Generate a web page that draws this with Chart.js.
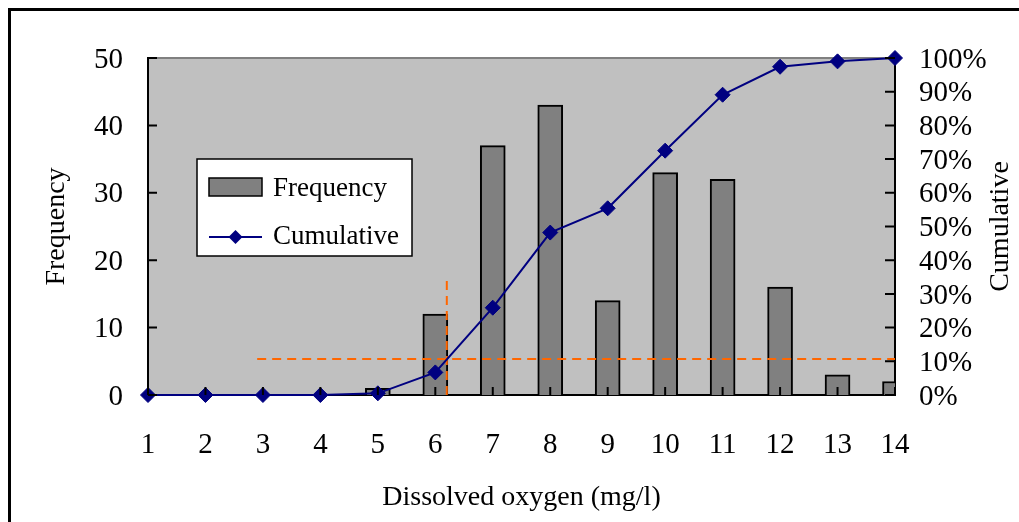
<!DOCTYPE html>
<html>
<head>
<meta charset="utf-8">
<script src="https://cdn.jsdelivr.net/npm/chart.js@4.4.0/dist/chart.umd.min.js"></script>
<style>
html, body { margin: 0; padding: 0; background: #fff; overflow: hidden; }
#frame { position: absolute; left: 8px; top: 8px; width: 1100px; height: 600px; border: 3px solid #000; }
#wrap { position: absolute; left: 0; top: 0; width: 1019px; height: 522px; }
</style>
</head>
<body>
<div id="frame"></div>
<div id="wrap"><canvas id="chart"></canvas></div>
<script>
// dissolved oxygen classes (mg/l)
const oxygen = [1, 2, 3, 4, 5, 6, 7, 8, 9, 10, 11, 12, 13, 14];
const frequency = [0, 0, 0, 0, 1, 12, 37, 43, 14, 33, 32, 16, 3, 2];
const cumulative = [0, 0, 0, 0, 0.5, 6.7, 25.9, 48.2, 55.4, 72.5, 89.1, 97.4, 99, 100];

// orange reference lines (x in mg/l, y in %)
const levelLineX = [2.9, 14];
const levelLineY = [10.7, 10.7];
const cutLineX = [6.2, 6.2];
const cutLineY = [0, 35];

const serif = "'Liberation Serif', 'Times New Roman', serif";
const font = { family: serif, size: 28 };
const tickFont = { family: serif, size: 29 };

const pts = (xs, ys) => xs.map((x, i) => ({ x: x, y: ys[i] }));

const framePlugin = {
    id: 'framePlugin',
    beforeDraw(chart) {
        const { ctx, chartArea: a } = chart;
        ctx.save();
        ctx.fillStyle = '#c0c0c0';
        ctx.fillRect(a.left, a.top, a.right - a.left, a.bottom - a.top);
        ctx.strokeStyle = '#808080';
        ctx.lineWidth = 2;
        ctx.beginPath();
        ctx.moveTo(a.left, a.top);
        ctx.lineTo(a.right, a.top);
        ctx.stroke();
        ctx.restore();
    },
    afterDraw(chart) {
        const { ctx, chartArea: a, scales } = chart;
        ctx.save();

        // inward tick marks
        ctx.strokeStyle = '#000';
        ctx.lineWidth = 2;
        ctx.beginPath();
        scales.y.ticks.forEach(t => {
            const y = scales.y.getPixelForValue(t.value);
            ctx.moveTo(a.left, y); ctx.lineTo(a.left + 9, y);
        });
        scales.y1.ticks.forEach(t => {
            const y = scales.y1.getPixelForValue(t.value);
            ctx.moveTo(a.right - 10, y); ctx.lineTo(a.right, y);
        });
        scales.x.ticks.forEach(t => {
            const x = scales.x.getPixelForValue(t.value);
            ctx.moveTo(x, a.bottom); ctx.lineTo(x, a.bottom - 8);
        });
        ctx.stroke();

        // right axis title, reading bottom to top
        ctx.fillStyle = '#000';
        ctx.font = '28px ' + serif;
        ctx.textAlign = 'center';
        ctx.textBaseline = 'middle';
        ctx.translate(1001, (a.top + a.bottom) / 2);
        ctx.rotate(-Math.PI / 2);
        ctx.fillText('Cumulative', 0, 0);
        ctx.setTransform(1, 0, 0, 1, 0, 0);

        // legend box
        const lx = a.left + 49, ly = a.top + 101;
        ctx.fillStyle = '#fff';
        ctx.fillRect(lx, ly, 215, 97);
        ctx.strokeStyle = '#000';
        ctx.lineWidth = 1.5;
        ctx.strokeRect(lx, ly, 215, 97);

        ctx.fillStyle = '#808080';
        ctx.fillRect(lx + 12, ly + 19, 53, 18);
        ctx.strokeRect(lx + 12, ly + 19, 53, 18);

        ctx.strokeStyle = '#000080';
        ctx.lineWidth = 2;
        ctx.beginPath();
        ctx.moveTo(lx + 12, ly + 78);
        ctx.lineTo(lx + 65, ly + 78);
        ctx.stroke();
        ctx.fillStyle = '#000080';
        ctx.beginPath();
        const dx = lx + 38.5, dy = ly + 78;
        ctx.moveTo(dx, dy - 7); ctx.lineTo(dx + 7, dy); ctx.lineTo(dx, dy + 7); ctx.lineTo(dx - 7, dy);
        ctx.closePath();
        ctx.fill();

        ctx.fillStyle = '#000';
        ctx.font = '27px ' + serif;
        ctx.textAlign = 'left';
        ctx.textBaseline = 'alphabetic';
        ctx.fillText('Frequency', lx + 76, ly + 37);
        ctx.fillText('Cumulative', lx + 76, ly + 85);
        ctx.restore();
    }
};

new Chart(document.getElementById('chart'), {
    type: 'bar',
    data: {
        datasets: [
            {
                type: 'line',
                label: 'Cumulative',
                data: pts(oxygen, cumulative),
                yAxisID: 'y1',
                borderColor: '#000080',
                backgroundColor: '#000080',
                borderWidth: 2,
                tension: 0,
                pointStyle: 'rectRot',
                pointRadius: 7.5,
                pointBorderWidth: 1,
                clip: false,
                order: 0
            },
            {
                type: 'line',
                data: pts(levelLineX, levelLineY),
                yAxisID: 'y1',
                borderColor: '#ff6600',
                borderWidth: 2,
                borderDash: [9, 6],
                pointRadius: 0,
                order: 1
            },
            {
                type: 'line',
                data: pts(cutLineX, cutLineY),
                yAxisID: 'y1',
                borderColor: '#ff6600',
                borderWidth: 2,
                borderDash: [9, 6],
                pointRadius: 0,
                order: 1
            },
            {
                label: 'Frequency',
                data: pts(oxygen, frequency),
                yAxisID: 'y',
                backgroundColor: '#808080',
                borderColor: '#000',
                borderWidth: 2,
                barThickness: 25,
                clip: 0,
                order: 2
            }
        ]
    },
    options: {
        responsive: true,
        maintainAspectRatio: false,
        animation: false,
        events: [],
        layout: { padding: { top: 58, left: 0, right: 0, bottom: 0 } },
        plugins: {
            legend: { display: false },
            tooltip: { enabled: false }
        },
        scales: {
            x: {
                type: 'linear',
                min: 1,
                max: 14,
                offset: false,
                grid: { display: false, drawTicks: false },
                border: { color: '#000', width: 2 },
                ticks: { stepSize: 1, autoSkip: false, padding: 33, color: '#000', font: tickFont, maxRotation: 0 },
                title: { display: true, text: 'Dissolved oxygen (mg/l)', color: '#000', font: font, padding: { top: 0, bottom: 8 } },
                afterFit(s) { s.height = 127; }
            },
            y: {
                position: 'left',
                min: 0,
                max: 50,
                grid: { display: false, drawTicks: false },
                border: { color: '#000', width: 2 },
                ticks: { stepSize: 10, autoSkip: false, padding: 25, labelOffset: 2, color: '#000', font: tickFont },
                title: { display: true, text: 'Frequency', color: '#000', font: font, padding: { top: 40, bottom: 0 } },
                afterFit(s) { s.width = 148; }
            },
            y1: {
                position: 'right',
                min: 0,
                max: 100,
                grid: { display: false, drawTicks: false },
                border: { color: '#000', width: 2 },
                ticks: { stepSize: 10, autoSkip: false, padding: 24, labelOffset: 2, color: '#000', font: tickFont, callback: v => v + '%' },
                afterFit(s) { s.width = 124; }
            }
        }
    },
    plugins: [framePlugin]
});
</script>
</body>
</html>
